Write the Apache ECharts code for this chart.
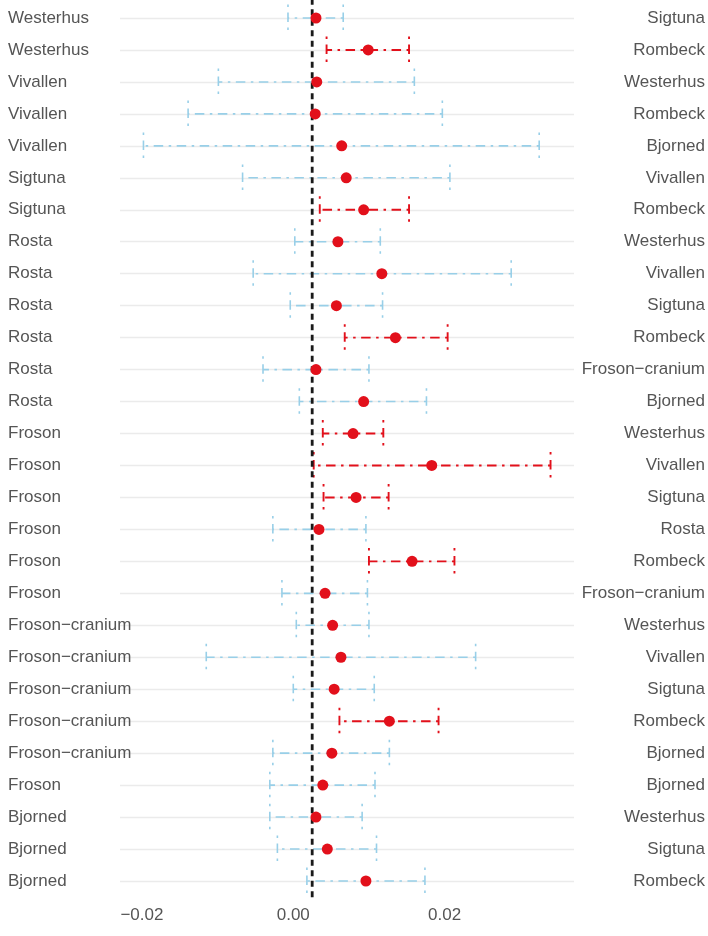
<!DOCTYPE html>
<html>
<head>
<meta charset="utf-8">
<script src="https://cdn.jsdelivr.net/npm/echarts@6/dist/echarts.min.js"></script>
<style>
  html, body { margin: 0; padding: 0; background: #ffffff; }
  #chart { width: 708px; height: 936px; }
</style>
</head>
<body>
<div id="chart"></div>
<script>
// Pairwise comparisons: population on the left, compared population on the right
const leftLabels = [
  "Westerhus", "Westerhus", "Vivallen", "Vivallen", "Vivallen", "Sigtuna", "Sigtuna",
  "Rosta", "Rosta", "Rosta", "Rosta", "Rosta", "Rosta",
  "Froson", "Froson", "Froson", "Froson", "Froson", "Froson",
  "Froson\u2212cranium", "Froson\u2212cranium", "Froson\u2212cranium", "Froson\u2212cranium", "Froson\u2212cranium",
  "Froson", "Bjorned", "Bjorned", "Bjorned"
];
const rightLabels = [
  "Sigtuna", "Rombeck", "Westerhus", "Rombeck", "Bjorned", "Vivallen", "Rombeck",
  "Westerhus", "Vivallen", "Sigtuna", "Rombeck", "Froson\u2212cranium", "Bjorned",
  "Westerhus", "Vivallen", "Sigtuna", "Rosta", "Rombeck", "Froson\u2212cranium",
  "Westerhus", "Vivallen", "Sigtuna", "Rombeck", "Bjorned",
  "Bjorned", "Westerhus", "Sigtuna", "Rombeck"
];

// Point estimates with lower / upper interval bounds
const estimate = [
  0.0030, 0.0099, 0.0031, 0.0029, 0.0064, 0.0070, 0.0093,
  0.0059, 0.0117, 0.0057, 0.0135, 0.0030, 0.0093,
  0.0079, 0.0183, 0.0083, 0.0034, 0.0157, 0.0042,
  0.0052, 0.0063, 0.0054, 0.0127, 0.0051,
  0.0039, 0.0030, 0.0045, 0.0096
];
const lower = [
  -0.0007, 0.0044, -0.0099, -0.0139, -0.0198, -0.0067, 0.0035,
  0.0002, -0.0053, -0.0004, 0.0068, -0.0040, 0.0008,
  0.0039, 0.0027, 0.0040, -0.0027, 0.0100, -0.0015,
  0.0004, -0.0115, 0.0000, 0.0061, -0.0027,
  -0.0031, -0.0031, -0.0021, 0.0018
];
const upper = [
  0.0066, 0.0153, 0.0160, 0.0197, 0.0325, 0.0207, 0.0153,
  0.0115, 0.0288, 0.0118, 0.0204, 0.0100, 0.0176,
  0.0119, 0.0340, 0.0126, 0.0096, 0.0213, 0.0098,
  0.0100, 0.0241, 0.0107, 0.0192, 0.0127,
  0.0108, 0.0091, 0.0110, 0.0174
];
// 1 = interval highlighted in red
const significant = [
  0, 1, 0, 0, 0, 0, 1,
  0, 0, 0, 1, 0, 0,
  1, 1, 1, 0, 1, 0,
  0, 0, 0, 1, 0,
  0, 0, 0, 0
];
const referenceValue = 0.0025;
const xTicks = [-0.02, 0, 0.02];

const RED = '#e2101b';
const BLUE = '#98cfe8';
const TEXT = '#555555';
const FONT = '"Liberation Sans", Arial, sans-serif';
const DOTDASH = [2.5, 5.5, 9.5, 5.5];

const rowIds = leftLabels.map((_, i) => String(i));

const intervalData = lower.map((lo, i) => [lo, upper[i], i, significant[i]]);
const pointData = estimate.map((v, i) => [v, i]);

function rowStep(api) {
  return Math.abs(api.coord([0, 1])[1] - api.coord([0, 0])[1]);
}

const chart = echarts.init(document.getElementById('chart'), null, { renderer: 'canvas' });

chart.setOption({
  backgroundColor: '#ffffff',
  animation: false,
  grid: { left: 120, right: 132, top: 18, bottom: 55, containLabel: false },
  xAxis: {
    type: 'value',
    min: -0.0229,
    max: 0.0371,
    axisLine: { show: false },
    axisTick: { show: false },
    splitLine: { show: false },
    axisLabel: {
      customValues: xTicks,
      margin: 26,
      color: TEXT,
      fontFamily: FONT,
      fontSize: 17,
      formatter: v => (v < 0 ? '\u2212' : '') + Math.abs(v).toFixed(2)
    }
  },
  yAxis: [
    {
      type: 'category',
      data: rowIds,
      inverse: true,
      boundaryGap: false,
      position: 'left',
      axisLine: { show: false },
      axisTick: { show: false },
      splitLine: { show: true, interval: 0, lineStyle: { color: '#ebebeb', width: 1.4 } },
      axisLabel: {
        interval: 0,
        align: 'left',
        margin: 112,
        color: TEXT,
        fontFamily: FONT,
        fontSize: 17,
        formatter: (v, i) => leftLabels[i]
      }
    },
    {
      type: 'category',
      data: rowIds,
      inverse: true,
      boundaryGap: false,
      position: 'right',
      axisLine: { show: false },
      axisTick: { show: false },
      splitLine: { show: false },
      axisLabel: {
        interval: 0,
        align: 'right',
        margin: 131,
        color: TEXT,
        fontFamily: FONT,
        fontSize: 17,
        formatter: (v, i) => rightLabels[i]
      }
    }
  ],
  series: [
    {
      // interval bars with end caps, drawn as dot-dash segments
      type: 'custom',
      name: 'interval',
      yAxisIndex: 0,
      data: intervalData,
      encode: { x: [0, 1], y: 2 },
      z: 2,
      renderItem: (params, api) => {
        const lo = api.value(0), hi = api.value(1), row = api.value(2), sig = api.value(3);
        const pLo = api.coord([lo, row]);
        const pHi = api.coord([hi, row]);
        const half = rowStep(api) * 0.42;
        const style = { stroke: sig ? RED : BLUE, lineWidth: sig ? 1.9 : 1.6, lineDash: DOTDASH, fill: null };
        return {
          type: 'group',
          children: [
            { type: 'line', shape: { x1: pHi[0], y1: pHi[1] - half, x2: pHi[0], y2: pHi[1] + half }, style },
            { type: 'line', shape: { x1: pHi[0], y1: pHi[1], x2: pLo[0], y2: pLo[1] }, style },
            { type: 'line', shape: { x1: pLo[0], y1: pLo[1] - half, x2: pLo[0], y2: pLo[1] + half }, style }
          ]
        };
      }
    },
    {
      // dashed reference line through the whole panel
      type: 'custom',
      name: 'reference',
      yAxisIndex: 0,
      data: [[referenceValue, 0]],
      encode: { x: 0, y: 1 },
      z: 3,
      renderItem: (params, api) => {
        const v = api.value(0);
        const step = rowStep(api);
        const top = api.coord([v, 0]);
        const bottom = api.coord([v, leftLabels.length - 1]);
        return {
          type: 'line',
          shape: { x1: top[0], y1: top[1] - step * 0.6, x2: bottom[0], y2: bottom[1] + step * 0.6 },
          style: { stroke: '#1a1a1a', lineWidth: 2.8, lineDash: [6, 4.5] }
        };
      }
    },
    {
      type: 'scatter',
      name: 'estimate',
      yAxisIndex: 0,
      data: pointData,
      symbol: 'circle',
      symbolSize: 11,
      itemStyle: { color: RED, opacity: 1 },
      z: 4
    }
  ]
});
</script>
</body>
</html>
